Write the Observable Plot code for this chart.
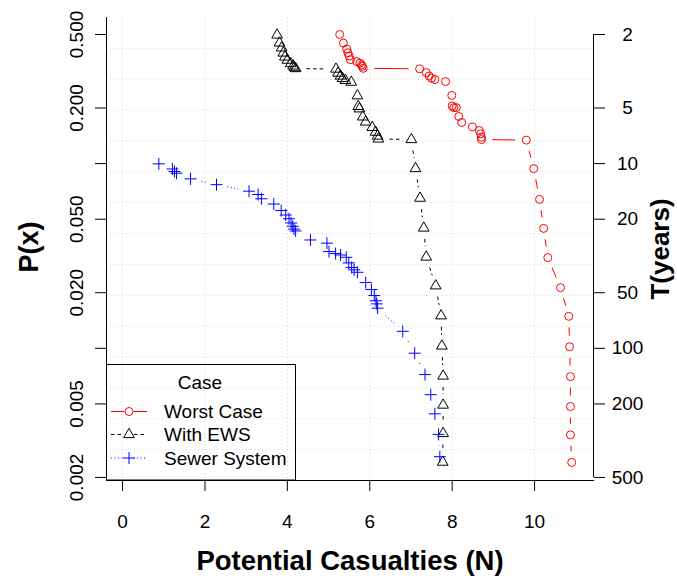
<!DOCTYPE html>
<html><head><meta charset="utf-8">
<script src="https://cdn.jsdelivr.net/npm/d3@7"></script>
<script src="https://cdn.jsdelivr.net/npm/@observablehq/plot@0.6"></script>
<style>
body{margin:0;background:#fff;}
#wrap{position:relative;width:677px;height:579px;font-family:"Liberation Sans",Arial,Helvetica,sans-serif;}
#wrap svg{display:block;}
#legend{position:absolute;left:0;top:0;pointer-events:none;}
</style></head><body><div id="wrap"></div>
<script>
// ---- data ----
const worstN = [5.27,5.36,5.44,5.47,5.50,5.53,5.68,5.76,5.80,5.82,5.84,
  7.21,7.37,7.44,7.50,7.58,7.84,7.99,8.00,8.04,8.10,8.16,8.23,8.49,8.66,8.69,8.71,8.71,
  9.80,9.98,10.12,10.22,10.32,10.63,10.83,10.85,10.87,10.87,10.87,10.90];
const worstP = [0.500,0.449,0.417,0.398,0.382,0.365,0.357,0.350,0.342,0.336,0.328,
  0.326,0.311,0.298,0.290,0.285,0.278,0.234,0.205,0.201,0.201,0.180,0.167,0.158,0.151,0.145,0.139,0.135,
  0.134,0.094,0.064,0.0446,0.031,0.0213,0.0149,0.0102,0.00703,0.00484,0.0034,0.00241];

const ewsN = [3.75,3.81,3.86,3.90,3.94,4.00,4.08,4.14,4.17,4.20,
  5.18,5.23,5.29,5.34,5.41,5.55,5.70,5.72,5.75,5.83,5.90,6.06,6.14,6.19,6.21,
  7.01,7.11,7.22,7.31,7.37,7.60,7.73,7.75,7.78,7.78,7.78,7.77];
const ewsP = [0.497,0.450,0.423,0.397,0.378,0.363,0.348,0.338,0.331,0.327,
  0.325,0.309,0.298,0.289,0.282,0.276,0.233,0.204,0.198,0.179,0.168,0.157,0.148,0.141,0.136,
  0.135,0.094,0.065,0.0448,0.0312,0.0218,0.0150,0.0103,0.00708,0.00493,0.00346,0.00242];

const sewerN = [0.88,1.21,1.26,1.31,1.65,2.28,3.07,3.29,3.37,3.67,3.85,3.96,4.04,4.09,4.13,
  4.16,4.20,4.56,4.96,5.01,5.17,5.29,5.43,5.49,5.56,5.62,5.70,5.90,6.04,6.11,
  6.15,6.17,6.19,6.80,7.09,7.34,7.48,7.58,7.67,7.70];
const sewerP = [0.0997,0.0935,0.0906,0.0887,0.0827,0.0769,0.0709,0.0680,0.0645,0.0604,0.0557,0.0527,0.0503,0.0477,0.0458,
  0.0442,0.0432,0.0386,0.0371,0.0334,0.0326,0.0320,0.0311,0.0290,0.0274,0.0266,0.0258,0.0227,0.0208,0.0193,
  0.0181,0.0174,0.0165,0.01236,0.00941,0.00721,0.00561,0.00442,0.00342,0.00259];

const caseNames = ["Worst Case","With EWS","Sewer System"];
const xTicks = [0,2,4,6,8,10];
const pTicks = [0.5,0.2,0.1,0.05,0.02,0.01,0.005,0.002];
const pLabels = ["0.500","0.200","","0.050","0.020","","0.005","0.002"];
const tTicks = [2,5,10,20,50,100,200,500];
const tLabels = ["2","5","10","20","50","100","200","500"];

// ---- symbols (R style) ----
const triSym = {draw(ctx, size){const r=Math.sqrt(size/Math.PI);const h=r*Math.sqrt(3)/2;
  ctx.moveTo(0,-r);ctx.lineTo(h,r/2);ctx.lineTo(-h,r/2);ctx.closePath();}};
const crossSym = {draw(ctx, size){const r=Math.sqrt(size/Math.PI);
  ctx.moveTo(-r,0);ctx.lineTo(r,0);ctx.moveTo(0,-r);ctx.lineTo(0,r);}};
const circSym = {draw(ctx, size){const r=Math.sqrt(size/Math.PI);
  ctx.moveTo(r,0);ctx.arc(0,0,r,0,2*Math.PI);}};

const styles = [
  {name:caseNames[0], N:worstN, P:worstP, color:"#ff0000", dash:null, sym:circSym, r:4},
  {name:caseNames[1], N:ewsN, P:ewsP, color:"#000000", dash:"3.5,3", sym:triSym, r:6.2},
  {name:caseNames[2], N:sewerN, P:sewerP, color:"#0000ff", dash:"1,2.5", sym:crossSym, r:6}
];

const W=677, H=579, mL=106, mR=84, mT=17, mB=99;
const xDomain = [-0.39, 11.43];
const yDomain = [0.001925, 0.618];
const FONT = "Liberation Sans, Arial, Helvetica, sans-serif";

// R grid(): 15 equal divisions of the log y range
const lt = Math.log10(yDomain[1]), lb = Math.log10(yDomain[0]);
const gridP = d3.range(1,15).map(i => 10 ** (lt + (lb-lt)*i/15));

const marks = [
  Plot.gridY({ticks: gridP, stroke:"#d3d3d3", strokeOpacity:1, strokeDasharray:"1,3"}),
  Plot.gridX({ticks: xTicks, stroke:"#d3d3d3", strokeOpacity:1, strokeDasharray:"1,3"})
];
for (const s of styles) {
  const pts = s.N.map((n,i)=>({N:n, P:s.P[i]}));
  const segs = d3.pairs(pts).map(([a,b])=>({x1:a.N,y1:a.P,x2:b.N,y2:b.P}));
  marks.push(Plot.arrow(segs, {x1:"x1", y1:"y1", x2:"x2", y2:"y2", stroke:s.color, strokeWidth:1,
    headLength:0, inset:11, strokeLinecap:"butt", strokeDasharray: s.dash || undefined}));
  marks.push(Plot.dot(pts, {x:"N", y:"P", symbol:s.sym, r:s.r, stroke:s.color, fill:"none", strokeWidth:1}));
}
marks.push(
  Plot.frame({anchor:"left", stroke:"black"}),
  Plot.frame({anchor:"bottom", stroke:"black"}),
  Plot.ruleX([xDomain[1]], {y1: 1/tTicks[0], y2: 1/tTicks[tTicks.length-1], stroke:"black"}),
  Plot.axisY({anchor:"left", ticks:pTicks, tickSize:11, tickFormat:()=>"", label:null}),
  Plot.axisY({anchor:"right", ticks:tTicks.map(t=>1/t), tickSize:11, tickFormat:()=>"", label:null}),
  Plot.axisX({anchor:"bottom", ticks:xTicks, tickSize:11, tickFormat:()=>"", label:null}),
  Plot.text(pTicks.map((p,i)=>({p, l:pLabels[i]})), {y:"p", text:"l", frameAnchor:"left", textAnchor:"middle", lineAnchor:"middle", rotate:-90, dx:-30, fontSize:19}),
  Plot.text(tTicks.map((t,i)=>({p:1/t, l:tLabels[i]})), {y:"p", text:"l", frameAnchor:"right", textAnchor:"middle", lineAnchor:"middle", dx:34, fontSize:19}),
  Plot.text(xTicks, {x:d=>d, text:d=>String(d), frameAnchor:"bottom", lineAnchor:"middle", dy:41, fontSize:19}),
  Plot.text(["Potential Casualties (N)"], {frameAnchor:"bottom", lineAnchor:"middle", dy:81, fontSize:27.5, fontWeight:"bold"}),
  Plot.text(["P(x)"], {frameAnchor:"left", textAnchor:"middle", lineAnchor:"middle", dx:-77, dy:-2, rotate:-90, fontSize:27, fontWeight:"bold"}),
  Plot.text(["T(years)"], {frameAnchor:"right", textAnchor:"middle", lineAnchor:"middle", dx:67, rotate:-90, fontSize:26, fontWeight:"bold"})
);

const chart = Plot.plot({
  width:W, height:H, marginLeft:mL, marginRight:mR, marginTop:mT, marginBottom:mB,
  x:{domain:xDomain, label:null, axis:null},
  y:{type:"log", domain:yDomain, label:null, axis:null},
  style:{fontFamily:FONT, fontSize:"19px", background:"white", color:"black", overflow:"visible"},
  marks
});
const wrap = document.getElementById("wrap");
wrap.appendChild(chart);

// ---- legend (R legend, bottom-left inside the plot) ----
const lg = d3.select(wrap).append("svg").attr("id","legend").attr("width",W).attr("height",H)
  .style("font-family",FONT);
lg.append("rect").attr("x",106.5).attr("y",364.5).attr("width",189).attr("height",115.5)
  .attr("fill","none").attr("stroke","black").attr("stroke-width",1);
lg.append("text").attr("x",200).attr("y",389).attr("text-anchor","middle").attr("font-size",19).text("Case");
const rowY = [411.5, 434.5, 458];
styles.forEach((s,i)=>{
  const y = rowY[i], cx = 129, gap = s === styles[1] ? 5 : 4.5;
  const g = lg.append("g").attr("stroke",s.color).attr("fill","none").attr("stroke-width",1);
  [[111, cx-gap],[cx+gap,147]].forEach(([a,b])=>{
    const l = g.append("line").attr("x1",a).attr("x2",b).attr("y1",y).attr("y2",y);
    if (s.dash) l.attr("stroke-dasharray", s.dash);
  });
  const p = d3.path(); s.sym.draw(p, s.r*s.r*Math.PI);
  g.append("path").attr("d", p.toString()).attr("transform",`translate(${cx},${y})`);
  lg.append("text").attr("x",164).attr("y",y+6.5).attr("font-size",19).text(s.name);
});
</script></body></html>
